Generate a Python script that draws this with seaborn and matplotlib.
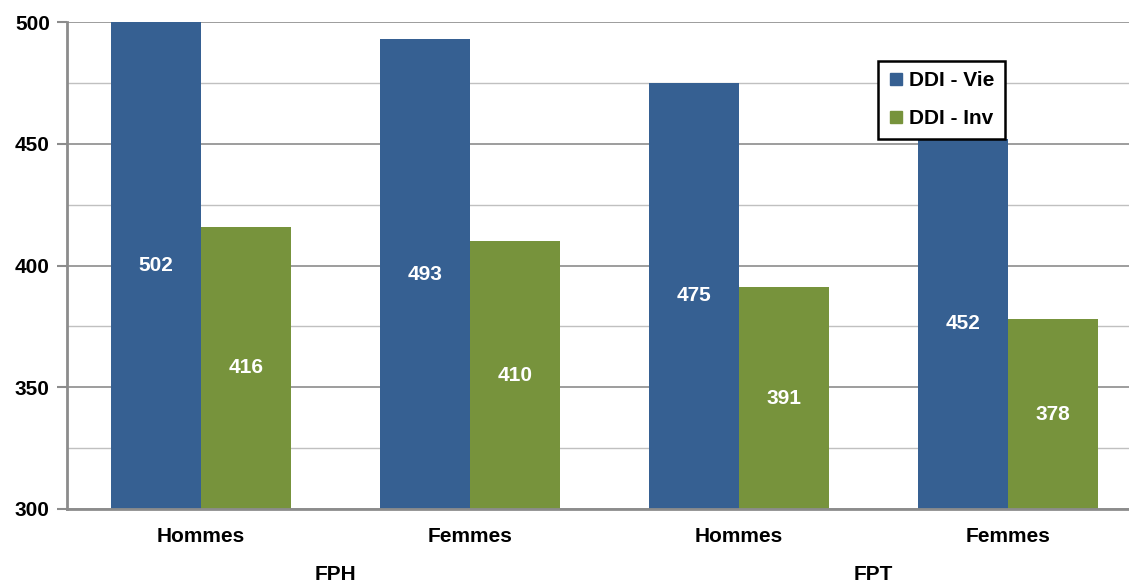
import matplotlib
matplotlib.use("Agg")
import matplotlib.pyplot as plt
import seaborn as sns
import pandas as pd
from matplotlib.ticker import MultipleLocator
from matplotlib.lines import Line2D

categories = ["Hommes", "Femmes", "Hommes ", "Femmes "]
groups = ["FPH", "FPT"]
series = ["DDI - Vie", "DDI - Inv"]
vie = [502, 493, 475, 452]
inv = [416, 410, 391, 378]
colors = ["#366092", "#77933C"]

df = pd.DataFrame({
    "cat": categories * 2,
    "serie": [series[0]] * 4 + [series[1]] * 4,
    "val": vie + inv,
})

sns.set_theme(style="white")
plt.rcParams["font.family"] = ["Liberation Sans", "DejaVu Sans"]
plt.rcParams["font.weight"] = "bold"
plt.rcParams["text.color"] = "black"
plt.rcParams["xtick.color"] = "black"
plt.rcParams["ytick.color"] = "black"
plt.rcParams["xtick.labelcolor"] = "black"
plt.rcParams["ytick.labelcolor"] = "black"

fig = plt.figure(figsize=(11.29, 5.82), dpi=100)
ax = fig.add_axes([66.5 / 1129, 1 - 509 / 582, (1142.5 - 66.5) / 1129, (509 - 22) / 582])

ymin, ymax = 300, 500
sns.barplot(data=df, x="cat", y="val", hue="serie", palette=colors, width=0.67,
            ax=ax, legend=False, saturation=1, linewidth=0)
ax.set_ylim(ymin, ymax)
ax.set_xlim(-0.5, 3.5)

ax.yaxis.set_major_locator(MultipleLocator(50))
ax.yaxis.set_minor_locator(MultipleLocator(25))
ax.grid(True, which="major", axis="y", color="#8c8c8c", lw=1.2)
ax.grid(True, which="minor", axis="y", color="#c0c0c0", lw=1.0)
ax.set_axisbelow(True)

for c in ax.containers:
    for bar in c:
        h = bar.get_height()
        x = bar.get_x() + bar.get_width() / 2
        top = min(h, ymax)
        ax.text(x, (ymin + top) / 2, f"{int(round(h))}", ha="center", va="center",
                color="white", fontsize=15, fontweight="bold")

ax.set_xlabel("")
ax.set_ylabel("")
ax.set_xticks(range(4))
ax.set_xticklabels([c.strip() for c in categories], fontsize=15, fontweight="bold")
ax.tick_params(axis="x", length=0, pad=13)
ax.tick_params(axis="y", which="major", length=7, width=1.5, color="#8c8c8c",
               labelsize=15, pad=5, left=True, direction="out")
ax.tick_params(axis="y", which="minor", length=0)
for t in ax.get_yticklabels():
    t.set_fontweight("bold")

for s in ["top", "right"]:
    ax.spines[s].set_visible(False)
ax.spines["left"].set_color("#8c8c8c")
ax.spines["left"].set_linewidth(2)
ax.spines["bottom"].set_color("#8c8c8c")
ax.spines["bottom"].set_linewidth(2)

for i, g in enumerate(groups):
    ax.text(0.5 + 2 * i, -0.115, g, transform=ax.get_xaxis_transform(),
            ha="center", va="top", fontsize=15, fontweight="bold")

handles = [Line2D([0], [0], marker="s", color="none", markerfacecolor=col,
                  markeredgecolor=col, markersize=9) for col in colors]
leg = ax.legend(handles, series, loc="upper left",
                bbox_to_anchor=((878 - 66.5) / 1076, (509 - 61) / 487),
                frameon=True, fancybox=False, edgecolor="black", framealpha=1,
                handlelength=0.7, handletextpad=0.3, labelspacing=0.9,
                borderpad=0.5, borderaxespad=0,
                prop={"weight": "bold", "size": 15})
leg.get_frame().set_linewidth(1.8)
leg.set_zorder(10)

fig.savefig("out.png", dpi=100, facecolor="white")
